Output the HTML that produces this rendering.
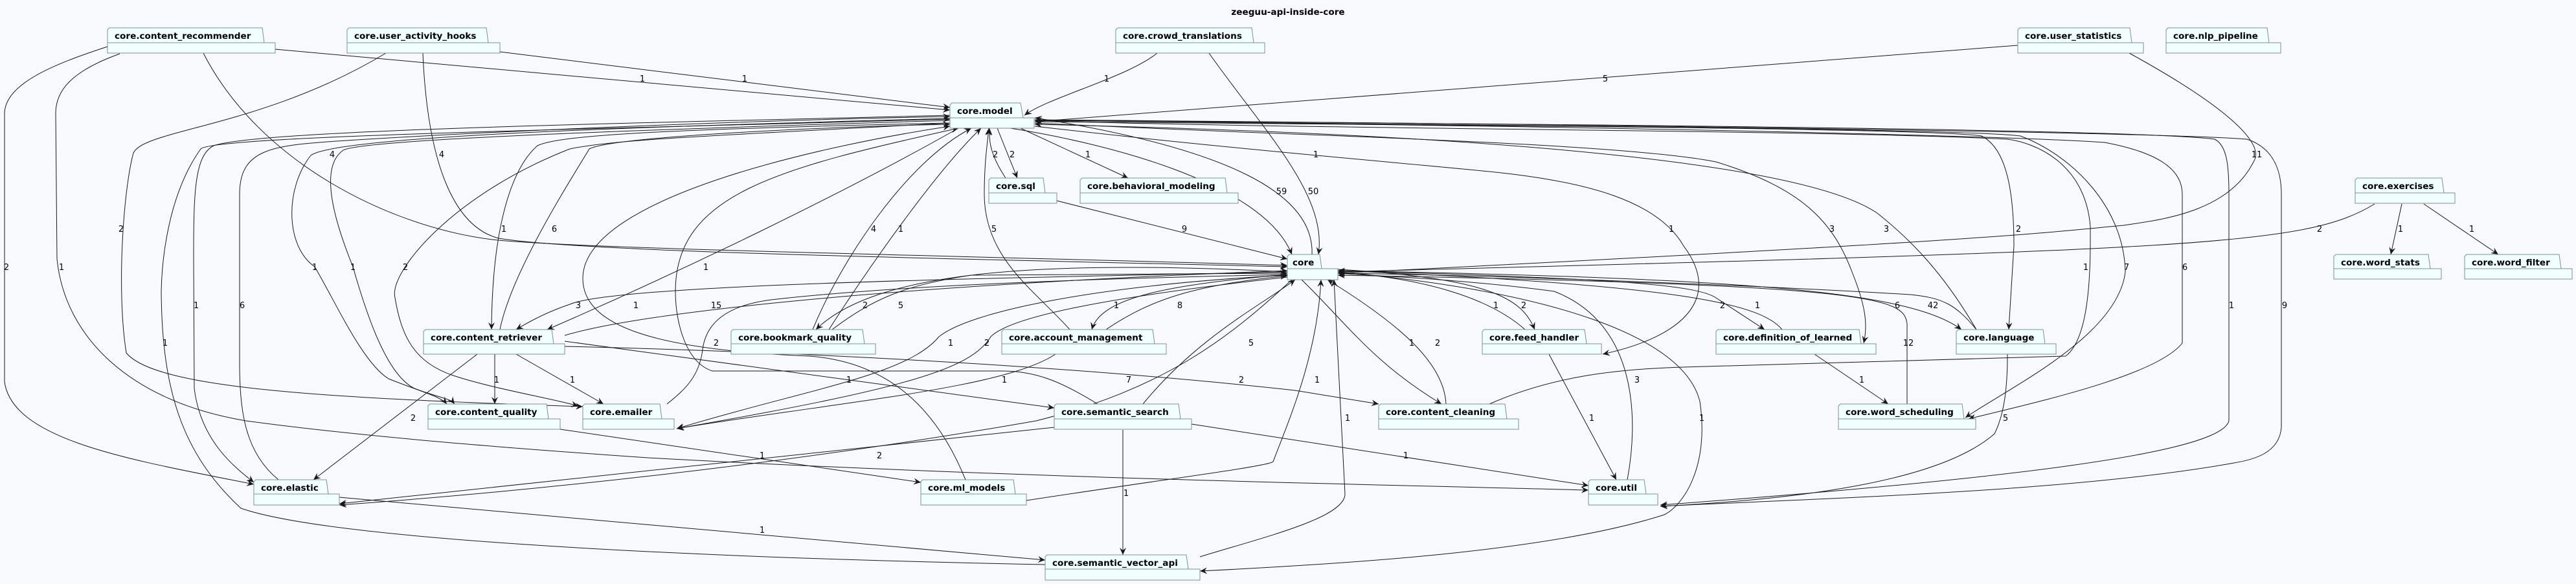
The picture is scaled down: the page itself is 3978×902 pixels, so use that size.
<!DOCTYPE html>
<html><head><meta charset="utf-8"><style>
html,body{margin:0;padding:0;background:#F7F9FD;}
svg{display:block}
.n path{fill:#F1FFFF;stroke:#7f8f8f;stroke-width:1}
.n text{font-family:"DejaVu Sans","Liberation Sans",sans-serif;font-weight:bold;font-size:13.6px;fill:#000}
.e path{fill:none;stroke:#181818;stroke-width:1}
.l text{font-family:"DejaVu Sans","Liberation Sans",sans-serif;font-size:13px;fill:#000;text-anchor:middle}
</style></head><body>
<svg width="3978" height="902" viewBox="0 0 3978 902" xmlns="http://www.w3.org/2000/svg">
<defs><marker id="a" markerUnits="userSpaceOnUse" markerWidth="12" markerHeight="10" refX="11" refY="5" orient="auto"><path d="M0,0 L11,5 L0,10 L4,5 Z" fill="#181818"/></marker></defs>
<rect width="3978" height="902" fill="#F7F9FD"/>
<text x="1989" y="23" text-anchor="middle" style="font-family:'DejaVu Sans',sans-serif;font-weight:bold;font-size:13.6px">zeeguu-api-inside-core</text>

<g class="e" marker-end="url(#a)">
<path d="M425,76 L1467,170"/>
<path d="M772,80 L1467,166"/>
<path d="M1787,82 C1740,120 1620,150 1582,178"/>
<path d="M1867,82 C1950,200 2050,300 2036,393"/>
<path d="M3116,70 L1598,188"/>
<path d="M3288,82 C3430,160 3500,220 3480,250 C3440,330 3330,340 3280,348 C3150,360 3100,370 2066,422"/>
<path d="M314,82 C400,250 600,350 760,370 C900,385 1500,395 1988,410"/>
<path d="M653,82 C660,250 700,350 770,368 C900,390 1500,400 1988,412"/>
<path d="M596,82 C400,200 210,200 205,240 C190,300 180,450 195,545 C240,600 500,615 900,628"/>
<path d="M166,72 C80,100 8,130 7,175 L7,590 C20,680 200,710 392,748"/>
<path d="M185,83 C110,110 86,140 86,175 L88,400 C100,520 200,620 380,650 C600,680 900,700 1000,707 C1600,740 2200,750 2453,757"/>
<path d="M1560,198 C1700,220 1950,280 1995,393"/>
<path d="M2026,393 C2030,300 1900,230 1598,182"/>
<path d="M1540,198 L1571,275"/>
<path d="M1553,275 C1530,240 1527,220 1528,198"/>
<path d="M1576,198 L1742,275"/>
<path d="M1632,310 L1988,400"/>
<path d="M3667,315 C3560,380 3400,385 2066,420"/>
<path d="M3709,315 L3692,393"/>
<path d="M3743,315 L3858,393"/>
<path d="M430,741 C380,700 370,640 370,560 L370,300 C370,230 420,225 520,218 C800,200 1200,185 1467,180"/>
<path d="M1467,178 C1000,190 400,200 330,225 C300,240 299,300 299,400 L300,600 C310,680 360,720 392,745"/>
<path d="M1614,872 C1000,860 500,830 372,785 C280,700 250,600 249,450 C250,400 260,300 310,230 C330,210 900,200 1467,184"/>
<path d="M1467,183 C1000,195 520,210 480,240 C440,290 440,380 486,412 C520,470 560,560 600,585 C650,605 680,612 690,624"/>
<path d="M1467,186 C1000,200 560,215 530,232 C490,260 520,350 545,412 C570,500 600,580 640,600 C680,615 695,615 702,624"/>
<path d="M1467,190 C1100,210 950,215 880,230 C700,300 600,420 610,460 C620,520 640,560 700,580 C760,600 850,615 893,627"/>
<path d="M1467,190 C1000,200 860,210 830,225 C790,260 760,350 759,509"/>
<path d="M772,509 C790,420 880,280 910,230 C950,210 1300,195 1467,192"/>
<path d="M1988,420 C1500,430 950,440 880,470 C850,480 820,495 797,509"/>
<path d="M1480,198 C1300,300 1050,420 845,509"/>
<path d="M872,518 C1000,480 1400,440 1988,418"/>
<path d="M764,547 L764,624"/>
<path d="M797,547 L932,624"/>
<path d="M737,547 L484,741"/>
<path d="M872,527 L1628,630"/>
<path d="M872,535 C1300,545 1700,570 2000,603 L2129,624"/>
<path d="M865,663 L1422,745"/>
<path d="M1628,660 L524,778"/>
<path d="M1995,432 C1900,520 1800,600 1600,650 C1200,720 800,760 524,780"/>
<path d="M524,768 L1614,865"/>
<path d="M1695,624 C1640,590 1600,573 1548,573 L1100,573 C1060,560 1043,500 1043,450 C1043,300 1200,260 1480,198"/>
<path d="M1030,624 C1060,600 1080,580 1085,540 C1090,500 1120,470 1200,462 C1400,440 1700,430 1988,424"/>
<path d="M1988,425 C1700,440 1500,480 1450,520 C1400,580 1250,600 1045,662"/>
<path d="M1630,547 C1550,600 1300,620 1045,662"/>
<path d="M1988,428 C1700,460 1560,490 1530,520 C1500,570 1400,600 1045,662"/>
<path d="M1585,773 C1800,740 1960,720 1966,713 C1990,650 2034,550 2040,432"/>
<path d="M1491,741 C1450,640 1380,560 1250,550 C1000,540 900,500 900,430 C900,300 1300,220 1467,195"/>
<path d="M1840,655 L2453,750"/>
<path d="M1734,664 L1734,857"/>
<path d="M1853,860 C1950,830 2077,800 2077,763 L2060,432"/>
<path d="M2066,420 C2400,450 2600,520 2625,620 C2640,720 2600,780 2570,795 C2400,850 2100,870 1853,882"/>
<path d="M2010,432 C2080,500 2120,560 2226,624"/>
<path d="M2233,624 C2230,560 2160,500 2050,432"/>
<path d="M1255,509 C1300,400 1400,250 1500,198"/>
<path d="M1280,509 C1350,400 1450,260 1515,198"/>
<path d="M1988,420 C1600,400 1350,420 1260,509"/>
<path d="M1285,509 C1350,460 1400,440 1500,425 L1988,422"/>
<path d="M1652,509 C1600,450 1520,400 1520,300 C1520,250 1525,220 1527,198"/>
<path d="M1988,424 C1800,440 1700,460 1686,509"/>
<path d="M1708,509 C1780,460 1850,440 1988,426"/>
<path d="M1765,624 C1850,520 1950,470 2000,432"/>
<path d="M1598,195 C1900,230 2150,250 2300,265 C2450,280 2560,310 2600,380 C2660,460 2600,520 2475,547"/>
<path d="M1598,190 C2000,210 2500,220 2650,250 C2780,290 2830,340 2860,420 C2880,470 2885,500 2878,530"/>
<path d="M3052,509 C3000,420 2950,370 2900,330 C2800,260 2400,210 1598,192"/>
<path d="M1598,188 C2500,195 3000,200 3060,210 C3100,230 3110,300 3110,380 L3102,509"/>
<path d="M2300,624 C2400,580 2500,570 2600,567 L3190,550 C3230,520 3228,400 3228,350 C3220,250 3140,220 3100,215 C2800,200 2000,200 1598,186"/>
<path d="M1598,186 C2500,195 3050,200 3120,210 C3200,240 3280,320 3282,420 C3270,520 3100,600 3035,645"/>
<path d="M1598,186 C2500,195 3100,210 3250,220 C3330,235 3370,260 3370,300 L3370,530 C3330,580 3150,620 3040,647"/>
<path d="M1598,186 C2500,192 3300,200 3420,215 C3440,225 3442,260 3442,300 L3442,650 C3430,700 3100,740 2564,780"/>
<path d="M1598,185 C2500,192 3350,205 3470,215 C3515,230 3523,270 3523,300 L3523,660 C3520,700 3480,710 3450,715 C3200,760 2800,770 2564,782"/>
<path d="M2066,418 C2700,430 2950,450 3029,509"/>
<path d="M3052,509 C3020,470 3000,460 2950,455 C2700,440 2300,425 2066,422"/>
<path d="M3100,547 C3100,600 3095,640 3080,670 C3000,740 2800,770 2564,782"/>
<path d="M2066,416 C2300,430 2350,460 2370,509"/>
<path d="M2355,509 C2300,460 2200,430 2066,420"/>
<path d="M2392,547 L2496,741"/>
<path d="M2513,741 C2530,650 2530,500 2400,450 C2250,430 2100,425 2066,422"/>
<path d="M2066,418 C2500,430 2620,440 2650,460 L2725,509"/>
<path d="M2752,509 C2720,470 2600,440 2066,418"/>
<path d="M2802,547 L2916,624"/>
<path d="M2945,624 L2945,500 C2940,460 2900,440 2066,425"/>
</g>

<g class="l">
<text x="992" y="126">1</text><text x="1150" y="126">1</text><text x="1709" y="126">1</text><text x="2479" y="126">5</text>
<text x="513" y="243">4</text><text x="682" y="243">4</text><text x="1537" y="243">2</text><text x="1563" y="243">2</text><text x="1680" y="243">1</text><text x="2032" y="243">1</text><text x="3485" y="243">11</text>
<text x="1979" y="300">59</text><text x="2028" y="300">50</text>
<text x="187" y="358">2</text><text x="778" y="358">1</text><text x="856" y="358">6</text><text x="1349" y="358">4</text><text x="1391" y="358">1</text><text x="1535" y="358">5</text><text x="1829" y="358">9</text><text x="2581" y="358">1</text><text x="2829" y="358">3</text><text x="2913" y="358">3</text><text x="3117" y="358">2</text><text x="3582" y="358">2</text><text x="3707" y="358">1</text><text x="3817" y="358">1</text>
<text x="10" y="417">2</text><text x="95" y="417">1</text><text x="486" y="417">1</text><text x="545" y="417">1</text><text x="626" y="417">2</text><text x="1090" y="417">1</text><text x="3221" y="417">1</text><text x="3284" y="417">7</text><text x="3374" y="417">6</text>
<text x="303" y="476">1</text><text x="374" y="476">6</text><text x="893" y="476">3</text><text x="982" y="476">1</text><text x="1106" y="476">15</text><text x="1336" y="476">2</text><text x="1391" y="476">5</text><text x="1724" y="476">1</text><text x="1822" y="476">8</text><text x="2310" y="476">1</text><text x="2353" y="476">2</text><text x="2660" y="476">2</text><text x="2714" y="476">1</text><text x="2930" y="476">6</text><text x="2985" y="476">42</text><text x="3446" y="476">1</text><text x="3528" y="476">9</text>
<text x="255" y="534">1</text><text x="1106" y="534">2</text><text x="1468" y="534">1</text><text x="1524" y="534">2</text><text x="1932" y="534">5</text><text x="2180" y="534">1</text><text x="2220" y="534">2</text><text x="2947" y="534">12</text>
<text x="767" y="591">1</text><text x="884" y="591">1</text><text x="1311" y="591">1</text><text x="1551" y="591">1</text><text x="1743" y="591">7</text><text x="1917" y="591">2</text><text x="2034" y="591">1</text><text x="2528" y="591">3</text><text x="2875" y="591">1</text>
<text x="638" y="650">2</text><text x="2081" y="650">1</text><text x="2458" y="650">1</text><text x="2628" y="650">1</text><text x="3097" y="650">5</text>
<text x="1177" y="708">1</text><text x="1358" y="708">2</text><text x="2171" y="708">1</text>
<text x="1739" y="766">1</text><text x="1177" y="823">1</text>
</g>

<g class="n">
<path d="M169,43 L405,43 L408,66 L425,66 L425,82 L166,82 L166,46 Z M166,66 L408,66"/><text x="177" y="60">core.content_recommender</text>
<path d="M539,43 L751,43 L754,66 L772,66 L772,82 L536,82 L536,46 Z M536,66 L754,66"/><text x="547" y="60">core.user_activity_hooks</text>
<path d="M1726,43 L1933,43 L1936,66 L1953,66 L1953,82 L1723,82 L1723,46 Z M1723,66 L1936,66"/><text x="1734" y="60">core.crowd_translations</text>
<path d="M3119,43 L3289,43 L3292,66 L3310,66 L3310,82 L3116,82 L3116,46 Z M3116,66 L3292,66"/><text x="3127" y="60">core.user_statistics</text>
<path d="M3348,43 L3501,43 L3504,66 L3522,66 L3522,82 L3345,82 L3345,46 Z M3345,66 L3504,66"/><text x="3356" y="60">core.nlp_pipeline</text>
<path d="M1470,159 L1576,159 L1580,182 L1597,182 L1597,198 L1467,198 L1467,162 Z M1467,182 L1580,182"/><text x="1478" y="176">core.model</text>
<path d="M1530,275 L1611,275 L1614,298 L1632,298 L1632,314 L1527,314 L1527,278 Z M1527,298 L1614,298"/><text x="1538" y="292">core.sql</text>
<path d="M1671,275 L1892,275 L1895,298 L1912,298 L1912,314 L1668,314 L1668,278 Z M1668,298 L1895,298"/><text x="1679" y="292">core.behavioral_modeling</text>
<path d="M3640,275 L3771,275 L3774,298 L3791,298 L3791,314 L3637,314 L3637,278 Z M3637,298 L3774,298"/><text x="3648" y="292">core.exercises</text>
<path d="M1991,393 L2038,393 L2041,415 L2066,415 L2066,432 L1988,432 L1988,396 Z M1988,415 L2041,415"/><text x="1996" y="410">core</text>
<path d="M3607,393 L3750,393 L3753,415 L3770,415 L3770,431 L3604,431 L3604,396 Z M3604,415 L3753,415"/><text x="3615" y="410">core.word_stats</text>
<path d="M3809,393 L3952,393 L3955,415 L3972,415 L3972,431 L3806,431 L3806,396 Z M3806,415 L3955,415"/><text x="3817" y="410">core.word_filter</text>
<path d="M657,509 L852,509 L855,531 L872,531 L872,547 L654,547 L654,512 Z M654,531 L855,531"/><text x="665" y="526">core.content_retriever</text>
<path d="M1132,509 L1332,509 L1335,531 L1352,531 L1352,547 L1129,547 L1129,512 Z M1129,531 L1335,531"/><text x="1140" y="526">core.bookmark_quality</text>
<path d="M1550,509 L1780,509 L1783,531 L1801,531 L1801,547 L1547,547 L1547,512 Z M1547,531 L1783,531"/><text x="1558" y="526">core.account_management</text>
<path d="M2292,509 L2447,509 L2450,531 L2473,531 L2473,547 L2289,547 L2289,512 Z M2289,531 L2450,531"/><text x="2300" y="526">core.feed_handler</text>
<path d="M2653,509 L2871,509 L2874,531 L2897,531 L2897,547 L2650,547 L2650,512 Z M2650,531 L2874,531"/><text x="2661" y="526">core.definition_of_learned</text>
<path d="M3024,509 L3155,509 L3158,531 L3175,531 L3175,547 L3021,547 L3021,512 Z M3021,531 L3158,531"/><text x="3032" y="526">core.language</text>
<path d="M664,624 L844,624 L847,647 L865,647 L865,663 L661,663 L661,627 Z M661,647 L847,647"/><text x="672" y="641">core.content_quality</text>
<path d="M903,624 L1019,624 L1022,647 L1041,647 L1041,663 L900,663 L900,627 Z M900,647 L1022,647"/><text x="911" y="641">core.emailer</text>
<path d="M1631,624 L1820,624 L1823,647 L1840,647 L1840,663 L1628,663 L1628,627 Z M1628,647 L1823,647"/><text x="1639" y="641">core.semantic_search</text>
<path d="M2132,624 L2324,624 L2327,647 L2345,647 L2345,663 L2129,663 L2129,627 Z M2129,647 L2327,647"/><text x="2140" y="641">core.content_cleaning</text>
<path d="M2842,624 L3030,624 L3033,647 L3051,647 L3051,663 L2839,663 L2839,627 Z M2839,647 L3033,647"/><text x="2850" y="641">core.word_scheduling</text>
<path d="M395,741 L504,741 L507,763 L524,763 L524,780 L392,780 L392,744 Z M392,763 L507,763"/><text x="403" y="758">core.elastic</text>
<path d="M1425,741 L1565,741 L1568,763 L1585,763 L1585,780 L1422,780 L1422,744 Z M1422,763 L1568,763"/><text x="1433" y="758">core.ml_models</text>
<path d="M2456,741 L2539,741 L2542,763 L2560,763 L2560,780 L2453,780 L2453,744 Z M2453,763 L2542,763"/><text x="2464" y="758">core.util</text>
<path d="M1617,857 L1832,857 L1835,879 L1853,879 L1853,896 L1614,896 L1614,860 Z M1614,879 L1835,879"/><text x="1625" y="874">core.semantic_vector_api</text>
</g>
</svg>
</body></html>
